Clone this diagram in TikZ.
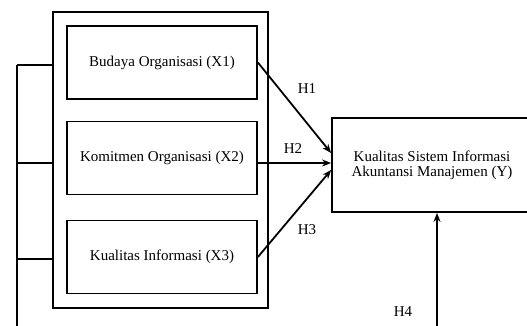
\documentclass[tikz,border=0pt]{standalone}
\usepackage{fontspec}
\setmainfont{Liberation Serif}
\usetikzlibrary{arrows.meta}
\begin{document}
\begin{tikzpicture}[x=1pt,y=-1pt,
  every node/.style={font=\fontsize{15}{17}\selectfont},
  varbox/.style={draw,line width=1.8pt,minimum width=190pt,minimum height=73pt},
  link/.style={line width=1.8pt},
  hyp/.style={line width=1.8pt,-{Stealth[length=9pt,width=7pt]}}]
\useasboundingbox (0,0) rectangle (527,325);
% outer frame round the three variables
\node[draw,line width=1.8pt,minimum width=215pt,minimum height=296pt] (outer) at (160.5,160) {};
\node[varbox] (x1) at (162,62.5) {Budaya Organisasi (X1)};
\node[varbox] (x2) at (162,158) {Komitmen Organisasi (X2)};
\node[varbox] (x3) at (162,257) {Kualitas Informasi (X3)};
\node[draw,line width=1.8pt,minimum width=200pt,minimum height=94pt,align=center] (y) at (432,165)
  {Kualitas Sistem Informasi\\[-2pt]Akuntansi Manajemen (Y)};
% left branch
\coordinate (b1) at (17,65);
\coordinate (b2) at (17,163);
\coordinate (b3) at (17,259);
\coordinate (foot) at (17,326);
\draw[link] (b1) -- (foot);
\draw[link] (b1) -- (b1 -| outer.west);
\draw[link] (b2) -- (b2 -| outer.west);
\draw[link] (b3) -- (b3 -| outer.west);
% hypotheses
\draw[hyp] (x1.east) -- ([yshift=12pt]y.west);
\draw[hyp] (x2.east |- b2) -- (b2 -| y.west);
\draw[hyp] (x3.east) -- ([yshift=-5pt]y.west);
\coordinate (h4foot) at (437,326);
\draw[hyp] (h4foot) -- (h4foot |- y.south);
\node (h1) at (307,89) {H1};
\node (h2) at (293,149) {H2};
\node (h3) at (307,230) {H3};
\node (h4) at (403,312) {H4};
\end{tikzpicture}
\end{document}
